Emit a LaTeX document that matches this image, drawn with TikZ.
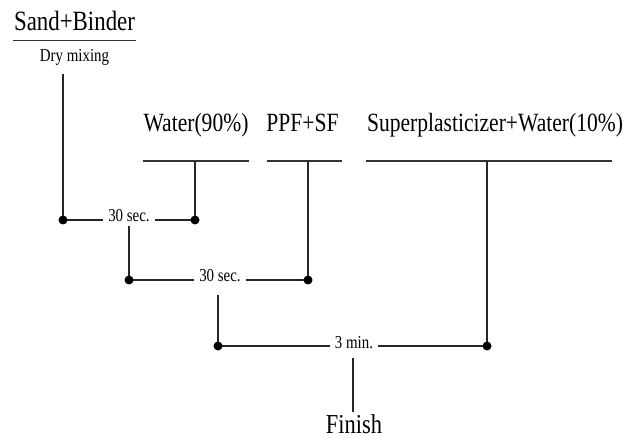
\documentclass[tikz,border=0pt]{standalone}
\usepackage{fontspec}
\setmainfont{Liberation Serif}[FakeStretch=0.82]
\begin{document}
\begin{tikzpicture}[x=1bp,y=1bp,
  ln/.style={line width=1.6bp,draw=black!85},
  uline/.style={line width=1.9bp,draw=black!80},
  dotc/.style={fill=black,draw=none},
  big/.style={inner sep=0pt,anchor=base,font=\fontsize{26.3bp}{30bp}\selectfont},
  tlab/.style={inner xsep=5bp,inner ysep=4bp,text height=12bp,text depth=0pt,anchor=base,font=\fontsize{18.2bp}{21bp}\selectfont}]
\useasboundingbox (0,0) rectangle (639,-438);
% top labels
\node[big,font=\fontsize{27.9bp}{32bp}\selectfont] (sb) at (74.5,-31) {Sand+Binder};
\coordinate (sbl) at (13,-40.5); \coordinate (sbr) at (136,-40.5);
\draw[uline] (sbl) -- (sbr);
\node[tlab,inner ysep=0pt] (dry) at (74.5,-62) {Dry mixing};
\coordinate (s0) at (63,-74);

\node[big] (w) at (196,-132) {Water(90\%)};
\coordinate (wl) at (143,-161); \coordinate (wr) at (249,-161);
\draw[uline] (wl) -- (wr);
\node[big] (p) at (302.5,-132) {PPF+SF};
\coordinate (pl) at (267,-161); \coordinate (pr) at (342,-161);
\draw[uline] (pl) -- (pr);
\node[big] (sp) at (495,-132) {Superplasticizer+Water(10\%)};
\coordinate (spl) at (366,-161); \coordinate (spr) at (612,-161);
\draw[uline] (spl) -- (spr);

% row 1
\coordinate (a1) at (63,-220); \coordinate (b1) at (195,-220);
\node[tlab] (t1) at (129,-222) {30 sec.};
\draw[ln] (s0) -- (a1);
\draw[ln] (b1 |- wl) -- (b1);
\draw[ln] (a1) -- (a1 -| t1.west);
\draw[ln] (t1.east |- b1) -- (b1);
\fill[dotc] (a1) circle (4.5bp); \fill[dotc] (b1) circle (4.5bp);

% row 2
\coordinate (a2) at (129,-280); \coordinate (b2) at (308,-280);
\node[tlab] (t2) at (220,-282) {30 sec.};
\draw[ln] (t1.south) -- (a2);
\draw[ln] (b2 |- pl) -- (b2);
\draw[ln] (a2) -- (a2 -| t2.west);
\draw[ln] (t2.east |- b2) -- (b2);
\fill[dotc] (a2) circle (4.5bp); \fill[dotc] (b2) circle (4.5bp);

% row 3
\coordinate (a3) at (218,-346); \coordinate (b3) at (487,-346);
\node[tlab] (t3) at (354,-348) {3 min.};
\draw[ln] ([yshift=-9bp]t2.south -| a3) -- (a3);
\draw[ln] (b3 |- spl) -- (b3);
\draw[ln] (a3) -- (a3 -| t3.west);
\draw[ln] (t3.east |- b3) -- (b3);
\fill[dotc] (a3) circle (4.5bp); \fill[dotc] (b3) circle (4.5bp);

% finish
\node[big,font=\fontsize{27.4bp}{31bp}\selectfont] (fin) at (354,-433) {Finish};
\coordinate (f0) at (353,-358); \coordinate (f1) at (353,-412);
\draw[line width=1.1bp,draw=black!85] (f0) -- (f1);
\end{tikzpicture}
\end{document}
